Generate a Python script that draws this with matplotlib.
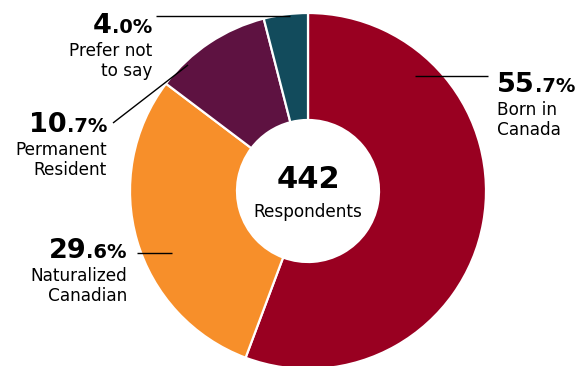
import matplotlib
matplotlib.use("Agg")
import matplotlib.pyplot as plt

# Survey breakdown: citizenship status of respondents
categories = ["Born in\nCanada", "Naturalized\nCanadian", "Permanent\nResident", "Prefer not\nto say"]
shares = [55.7, 29.6, 10.7, 4.0]
colors = ["#990021", "#F78F2A", "#5E1241", "#124B5C"]
total_respondents = 442

# label placement in pixel coords (x, number baseline, alignment, leader line)
label_pos = [
    (497, 92, "left", ((415, 76), (488, 76))),
    (127, 258, "right", ((137, 253), (172, 253))),
    (107, 132, "right", ((113, 123), (188, 65))),
    (152, 33, "right", ((156, 16), (290, 16))),
]

W, H = 581, 366
fig = plt.figure(figsize=(W / 100, H / 100), dpi=100)
ax = fig.add_axes([0, 0, 1, 1])

# y runs downward like pixel rows, so counterclock=True turns clockwise on screen
ax.pie(shares, colors=colors, startangle=-90, counterclock=True,
       center=(308, 191), radius=178,
       wedgeprops=dict(width=107, edgecolor="white", linewidth=1.6))
ax.set_xlim(0, W)
ax.set_ylim(H, 0)
ax.set_aspect("auto")
ax.axis("off")

renderer = fig.canvas.get_renderer()
big_fs, small_fs, body_fs = 19.5, 14, 12.2

for cat, val, (x, y, ha, line) in zip(categories, shares, label_pos):
    whole, dec = f"{val:.1f}".split(".")
    (x0, y0), (x1, y1) = line
    ax.plot([x0, x1], [y0, y1], color="black", lw=1.0, solid_capstyle="butt")
    if ha == "left":
        t1 = ax.text(x, y, whole, fontsize=big_fs, fontweight="bold", ha="left", va="baseline")
        w = t1.get_window_extent(renderer).width
        ax.text(x + w, y, "." + dec + "%", fontsize=small_fs, fontweight="bold", ha="left", va="baseline")
    else:
        t2 = ax.text(x, y, "." + dec + "%", fontsize=small_fs, fontweight="bold", ha="right", va="baseline")
        w = t2.get_window_extent(renderer).width
        ax.text(x - w, y, whole, fontsize=big_fs, fontweight="bold", ha="right", va="baseline")
    ax.text(x, y + 9, cat, fontsize=body_fs, ha=ha, va="top", multialignment=ha,
            linespacing=1.15)

# total in the hole
ax.text(308, 188, str(total_respondents), fontsize=22, fontweight="bold", ha="center", va="baseline")
ax.text(308, 217, "Respondents", fontsize=body_fs, ha="center", va="baseline")

fig.savefig("out.png", dpi=100)
